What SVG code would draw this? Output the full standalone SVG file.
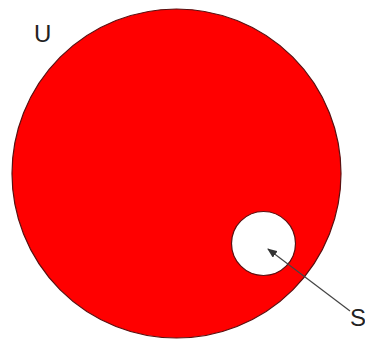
<svg xmlns="http://www.w3.org/2000/svg" width="365" height="341" viewBox="0 0 365 341">
<style>
.lbl{font-family:"Liberation Sans",Arial,sans-serif;font-size:24px;fill:#222}
.ring{stroke:#5a1010;stroke-width:1.2}
</style>
<defs>
<marker id="ah" markerWidth="10" markerHeight="8" refX="9" refY="4" orient="auto" markerUnits="userSpaceOnUse">
<path d="M0,0 L10,4 L0,8 Z" fill="#333"/>
</marker>
</defs>
<rect width="365" height="341" fill="#fff"/>
<g id="U">
<circle class="ring" cx="176.5" cy="173.5" r="164.5" fill="#ff0000"/>
<text class="lbl" x="34" y="42">U</text>
</g>
<g id="S">
<circle class="ring" cx="263.5" cy="243.5" r="32" fill="#fff"/>
<text class="lbl" x="350" y="326">S</text>
</g>
<g id="connectors">
<line x1="350" y1="311" x2="268" y2="249" stroke="#444" stroke-width="1.2" marker-end="url(#ah)"/>
</g>
</svg>
